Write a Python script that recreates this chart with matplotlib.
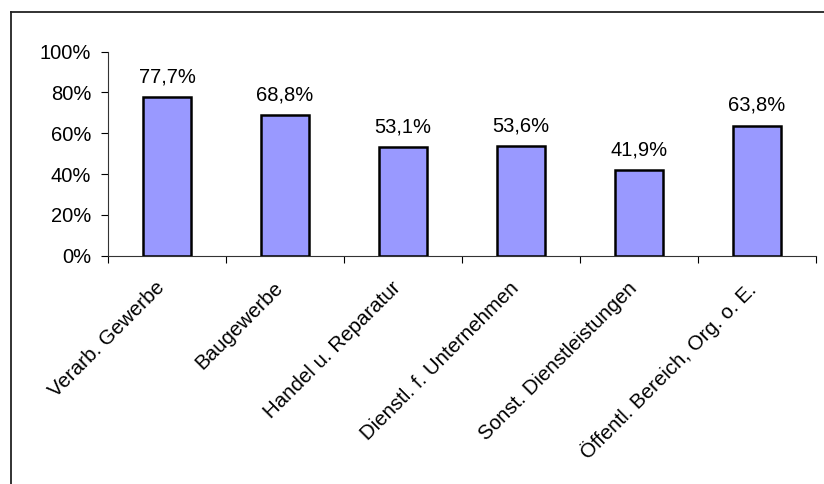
import matplotlib.pyplot as plt
import matplotlib.transforms as mtransforms
from matplotlib.lines import Line2D

plt.rcParams['font.family'] = ['Liberation Sans', 'DejaVu Sans']

branchen = ['Verarb. Gewerbe', 'Baugewerbe', 'Handel u. Reparatur',
            'Dienstl. f. Unternehmen', 'Sonst. Dienstleistungen',
            'Öffentl. Bereich, Org. o. E.']
anteile = [77.7, 68.8, 53.1, 53.6, 41.9, 63.8]
y_ticks = [0, 20, 40, 60, 80, 100]

fig = plt.figure(figsize=(8.24, 4.84), dpi=100)

# frame around the chart (only left and top edge visible)
fx = 11 / 824
fy = 1 - 12 / 484
fig.add_artist(Line2D([fx, fx], [0, fy], color='#222222', lw=1.3, transform=fig.transFigure))
fig.add_artist(Line2D([fx, 1], [fy, fy], color='#222222', lw=1.3, transform=fig.transFigure))

ax = fig.add_axes([108 / 824, 1 - 255.7 / 484, 708 / 824, 204 / 484])
x = list(range(len(branchen)))
ax.bar(x, anteile, width=0.41, color='#9999FF', edgecolor='black', linewidth=1.8, zorder=3)

for xi, v in zip(x, anteile):
    ax.annotate(('%.1f' % v).replace('.', ',') + '%', (xi, v), xytext=(0, 8),
                textcoords='offset points', ha='center', va='bottom', fontsize=14.5)

ax.set_xlim(-0.5, len(branchen) - 0.5)
ax.set_ylim(0, 100)
ax.set_yticks(y_ticks)
ax.set_yticklabels(['%d%%' % t for t in y_ticks], fontsize=14.5)

# category ticks between the bars, labels at bar centres
ax.set_xticks([i - 0.5 for i in range(len(branchen) + 1)])
ax.set_xticklabels([])
ax.set_xticks(x, minor=True)
ax.set_xticklabels(branchen, minor=True, rotation=45, ha='right',
                   rotation_mode='anchor', fontsize=14.8)
ax.tick_params(axis='x', which='minor', length=0, pad=12)
ax.tick_params(axis='x', which='major', length=5, width=0.8)
ax.tick_params(axis='y', length=5, width=0.8, pad=7)

shift = mtransforms.ScaledTranslation(-12 / 100, -6 / 100, fig.dpi_scale_trans)
for lbl in ax.get_xticklabels(minor=True):
    lbl.set_transform(lbl.get_transform() + shift)

for s in ['top', 'right']:
    ax.spines[s].set_visible(False)
for s in ['left', 'bottom']:
    ax.spines[s].set_linewidth(0.8)
    ax.spines[s].set_color('#333333')

fig.savefig('out.png', dpi=100)
